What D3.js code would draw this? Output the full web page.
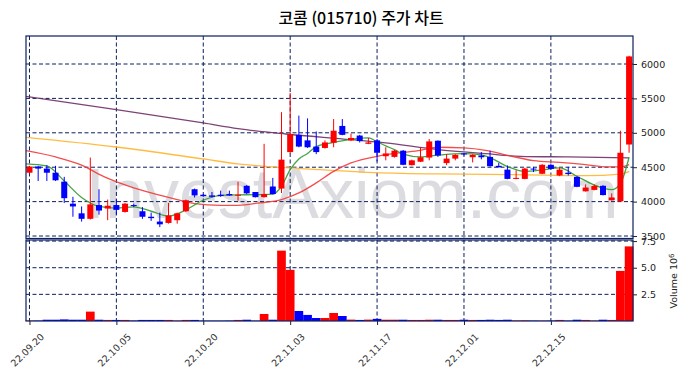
<!DOCTYPE html>
<html>
<head>
<meta charset="utf-8">
<script src="https://cdn.jsdelivr.net/npm/d3@7"></script>
<style>
  body { margin: 0; background: #fff; }
  svg { display: block; }
  text { font-family: "DejaVu Sans", sans-serif; }
</style>
</head>
<body>
<div id="chart"></div>
<script>
// trading days shown on the chart
const dates = ["22.09.20","22.09.21","22.09.22","22.09.23","22.09.26","22.09.27","22.09.28","22.09.29","22.09.30","22.10.04",
  "22.10.05","22.10.06","22.10.07","22.10.11","22.10.12","22.10.13","22.10.14","22.10.17","22.10.18","22.10.19",
  "22.10.20","22.10.21","22.10.24","22.10.25","22.10.26","22.10.27","22.10.28","22.10.31","22.11.01","22.11.02",
  "22.11.03","22.11.04","22.11.07","22.11.08","22.11.09","22.11.10","22.11.11","22.11.14","22.11.15","22.11.16",
  "22.11.17","22.11.18","22.11.21","22.11.22","22.11.23","22.11.24","22.11.25","22.11.28","22.11.29","22.11.30",
  "22.12.01","22.12.02","22.12.05","22.12.06","22.12.07","22.12.08","22.12.09","22.12.12","22.12.13","22.12.14",
  "22.12.15","22.12.16","22.12.19","22.12.20","22.12.21","22.12.22","22.12.23","22.12.26","22.12.27","22.12.28"];

const open  = [4420,4510,4480,4420,4290,3970,3830,3750,3950,3900, 3950,3850,3950,3860,3780,3710,3690,3730,3860,4180,
  4100,4090,4100,4110,4085,4230,4140,4065,4220,4190, 4720,4970,4890,4800,4780,4855,5100,4890,4960,4840,
  4890,4660,4650,4740,4530,4580,4640,4885,4560,4625, 4700,4645,4670,4650,4520,4465,4330,4330,4480,4405,
  4535,4380,4420,4360,4150,4170,4230,4020,4005,4830];
const high  = [4520,4520,4530,4520,4360,4070,3930,4640,4180,4030, 4030,3980,3970,3920,3840,3840,3980,3840,4030,4190,
  4110,4140,4160,4160,4290,4240,4140,4840,4345,5300, 5580,5250,5210,5020,4890,5200,5200,4990,4970,4925,
  4910,4790,4750,4750,4610,4790,4910,4890,4690,4690, 4710,4690,4720,4740,4560,4525,4455,4490,4505,4545,
  4545,4495,4505,4365,4250,4250,4240,4120,5030,6120];
const low   = [4410,4300,4300,4300,3980,3780,3710,3740,3810,3730, 3810,3840,3920,3750,3720,3630,3680,3680,3850,4060,
  4070,4060,4070,4085,4015,4110,4060,4060,4105,4125, 4700,4790,4780,4690,4770,4790,4965,4880,4860,4835,
  4585,4600,4640,4530,4525,4575,4600,4650,4530,4600, 4670,4570,4615,4510,4495,4325,4325,4325,4430,4400,
  4470,4370,4380,4210,4145,4165,4090,4015,4000,4710];
const close = [4510,4480,4420,4310,4050,3930,3750,3960,3870,3940, 3880,3970,3940,3780,3760,3670,3800,3830,4020,4090,
  4080,4070,4080,4090,4100,4120,4065,4110,4110,4610, 4980,4800,4790,4720,4860,5030,4970,4925,4880,4860,
  4710,4700,4740,4535,4600,4645,4875,4670,4625,4680, 4690,4680,4645,4515,4500,4330,4345,4480,4470,4535,
  4475,4465,4400,4215,4205,4230,4095,4060,4710,6110];
// volume in millions of shares
const volume = [0.04,0.04,0.12,0.12,0.15,0.12,0.12,0.88,0.12,0.10, 0.10,0.10,0.04,0.10,0.10,0.10,0.10,0.04,0.10,0.10,
  0.03,0.03,0.03,0.04,0.10,0.12,0.03,0.66,0.12,6.60, 4.80,0.94,0.57,0.28,0.28,0.75,0.47,0.13,0.10,0.13,
  0.20,0.12,0.12,0.12,0.10,0.10,0.12,0.12,0.10,0.10, 0.12,0.10,0.10,0.12,0.10,0.12,0.05,0.06,0.04,0.04,
  0.04,0.10,0.04,0.12,0.10,0.04,0.12,0.10,4.70,7.00];

// moving averages: [day index, price]
const ma5 = [[-0.4,4550],[2,4520],[4,4300],[6,4060],[7,3980],[8,3930],[10,3905],[12,3925],[14,3860],[16,3790],
  [18,3880],[20,4020],[22,4092],[25,4100],[28,4110],[29,4222],[30,4465],[31,4620],[32,4700],[33,4800],
  [35,4860],[37,4905],[39,4925],[40,4870],[41,4810],[42,4756],[43,4690],[45,4649],[47,4675],[50,4697],
  [52,4680],[53,4640],[55,4510],[57,4440],[59,4460],[61,4489],[63,4368],[65,4240],[67,4174],[68,4262],[69,4645]];
const ma20 = [[-0.4,4741],[3,4650],[6,4530],[8.5,4368],[11.5,4222],[14,4126],[17,4029],[19,3971],[22,3946],[24,3946],
  [26.5,3981],[29,4029],[31,4126],[33,4272],[35,4440],[37,4562],[40,4659],[42.5,4707],[45,4745],[47,4790],
  [50,4780],[52.5,4745],[55.5,4659],[58,4596],[61,4571],[64,4538],[66.5,4504],[68,4505],[69,4538]];
const ma60 = [[-0.4,4934],[10,4794],[20,4620],[24,4548],[28,4504],[33.5,4465],[39,4426],[47,4402],[56,4392],
  [64,4378],[68,4400],[69,4440]];
const ma120 = [[-0.4,5530],[10,5337],[20,5143],[24,5061],[29.5,4983],[37,4901],[41,4853],[47,4756],[52.5,4697],
  [56.5,4659],[62,4649],[69,4635]];

const priceTicks = [3500, 4000, 4500, 5000, 5500, 6000];
const volTicks = [2.5, 5.0, 7.5];
const dateTicks = [0, 10, 20, 30, 40, 50, 60];

const W = 690, H = 378;
const left = 26, right = 633;
const pTop = 36, pBot = 238.5, vTop = 240, vBot = 321;
const navy = "#0c1f5e";
const upColor = "#ff0000", downColor = "#0000ff";

const svg = d3.select("#chart").append("svg")
  .attr("width", W).attr("height", H);

const x = d3.scaleLinear().domain([-0.4, 69.45]).range([left, right]);
const y = d3.scaleLinear().domain([3464, 6407]).range([pBot, pTop]);
const yv = d3.scaleLinear().domain([0, 7.6]).range([vBot, vTop]);

svg.append("defs").append("clipPath").attr("id", "pclip")
  .append("rect").attr("x", left).attr("y", pTop).attr("width", right - left).attr("height", pBot - pTop);

// title
svg.append("text")
  .attr("x", 361).attr("y", 24)
  .attr("text-anchor", "middle")
  .style("font-family", "'Noto Sans CJK KR', sans-serif")
  .style("font-size", "16px")
  .style("font-weight", "500")
  .text("코콤 (015710) 주가 차트");

// watermark
svg.append("text")
  .attr("x", 352).attr("y", 218)
  .attr("text-anchor", "middle")
  .style("font-family", "'Liberation Sans', Arial, sans-serif")
  .style("font-size", "70px")
  .attr("fill", "#dcdce0")
  .text("InvestAxiom.com");

// grids
const grid = svg.append("g")
  .attr("stroke", navy).attr("stroke-width", 1).attr("stroke-dasharray", "4,2.5");
grid.selectAll(".hp").data(priceTicks).enter().append("line")
  .attr("x1", left).attr("x2", right)
  .attr("y1", d => y(d)).attr("y2", d => y(d));
grid.selectAll(".hv").data(volTicks).enter().append("line")
  .attr("x1", left).attr("x2", right)
  .attr("y1", d => yv(d)).attr("y2", d => yv(d));
grid.selectAll(".vp").data(dateTicks).enter().append("line")
  .attr("x1", d => x(d)).attr("x2", d => x(d))
  .attr("y1", pTop).attr("y2", pBot);
grid.selectAll(".vv").data(dateTicks).enter().append("line")
  .attr("x1", d => x(d)).attr("x2", d => x(d))
  .attr("y1", vTop).attr("y2", vBot);

// moving average lines
const line = d3.line().x(d => x(d[0])).y(d => y(d[1])).curve(d3.curveMonotoneX);
const maG = svg.append("g").attr("clip-path", "url(#pclip)").attr("fill", "none");
[[ma120, "#6e2f66"], [ma60, "#ffb52e"], [ma20, "#f23a3a"], [ma5, "#2f9a2f"]].forEach(([d, c]) => {
  maG.append("path").datum(d).attr("d", line)
    .attr("stroke", c).attr("stroke-width", 1.3).attr("stroke-opacity", 0.9);
});

// candles
const idx = d3.range(dates.length);
const col = i => close[i] >= open[i] ? upColor : downColor;
const cg = svg.append("g").attr("clip-path", "url(#pclip)");
cg.selectAll(".wick").data(idx).enter().append("line")
  .attr("x1", i => x(i)).attr("x2", i => x(i))
  .attr("y1", i => y(high[i])).attr("y2", i => y(low[i]))
  .attr("stroke", col).attr("stroke-width", 1);
cg.selectAll(".body").data(idx).enter().append("rect")
  .attr("x", i => x(i) - 3)
  .attr("width", 6)
  .attr("y", i => y(Math.max(open[i], close[i])))
  .attr("height", i => Math.max(1, Math.abs(y(open[i]) - y(close[i]))))
  .attr("fill", col);

// volume bars
const bw = x(1) - x(0);
svg.append("g").selectAll("rect").data(idx).enter().append("rect")
  .attr("x", i => x(i) - bw / 2)
  .attr("width", bw)
  .attr("y", i => yv(volume[i]))
  .attr("height", i => vBot - yv(volume[i]))
  .attr("fill", col);

// panel frames
[[pTop, pBot], [vTop, vBot]].forEach(([t, b]) => {
  svg.append("rect").attr("x", left).attr("y", t)
    .attr("width", right - left).attr("height", b - t)
    .attr("fill", "none").attr("stroke", navy).attr("stroke-width", 1.2);
});

// right axes
const pAxis = svg.append("g").attr("transform", `translate(${right},0)`)
  .call(d3.axisRight(y).tickValues(priceTicks).tickSize(4).tickPadding(4).tickFormat(d3.format("d")));
const vAxis = svg.append("g").attr("transform", `translate(${right},0)`)
  .call(d3.axisRight(yv).tickValues(volTicks).tickSize(4).tickPadding(4).tickFormat(d3.format(".1f")));
[pAxis, vAxis].forEach(a => {
  a.select(".domain").remove();
  a.selectAll("line").attr("stroke", "#222");
  a.selectAll("text").style("font-size", "9.5px").attr("fill", "#222");
});

// volume label
const vl = svg.append("text")
  .attr("transform", `translate(674,281) rotate(-90)`)
  .attr("text-anchor", "middle")
  .attr("dy", "0.35em")
  .style("font-size", "9.5px").attr("fill", "#222");
vl.append("tspan").text("Volume  10");
vl.append("tspan").attr("dy", "-0.45em").style("font-size", "7px").text("6");

// x axis
const xAxis = svg.append("g").attr("transform", `translate(0,${vBot})`)
  .call(d3.axisBottom(x).tickValues(dateTicks).tickSize(4).tickFormat(""));
xAxis.select(".domain").remove();
xAxis.selectAll("line").attr("stroke", "#222");
svg.append("g").selectAll("text").data(dateTicks).enter().append("text")
  .attr("transform", d => `translate(${x(d) - 2},350) rotate(-45)`)
  .attr("text-anchor", "middle")
  .attr("dy", "0.35em")
  .style("font-size", "9.5px").attr("fill", "#333")
  .text(d => dates[d]);
</script>
</body>
</html>
